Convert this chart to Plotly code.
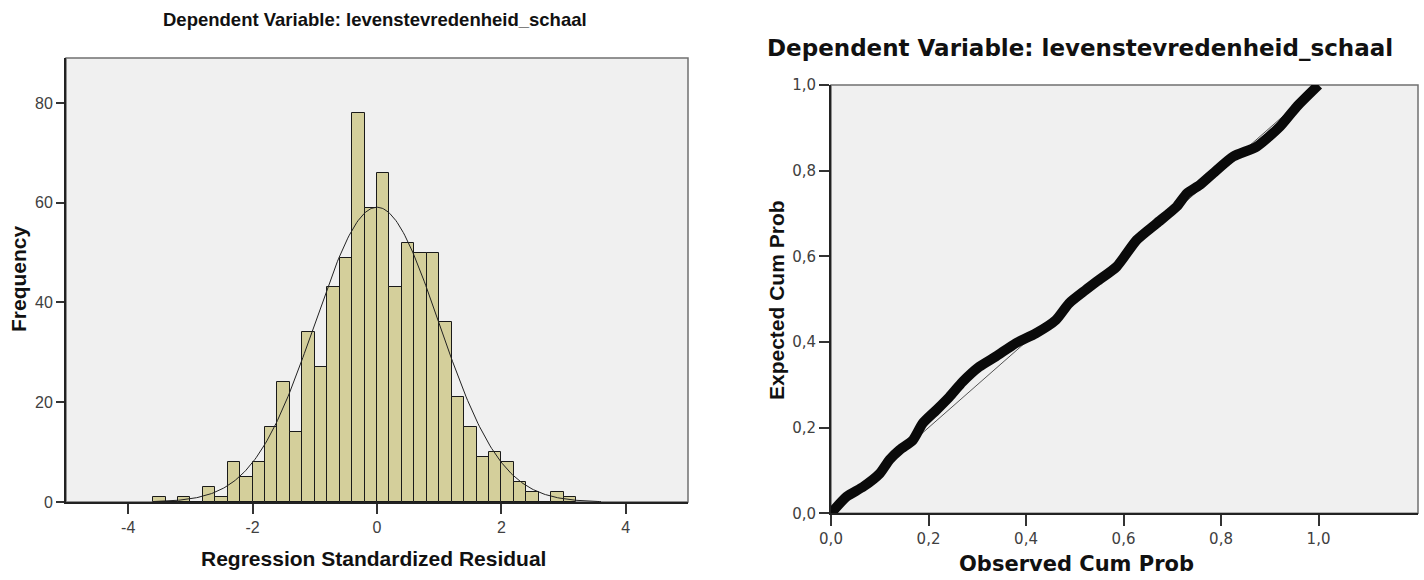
import numpy as np
import plotly.graph_objects as go

# ---------------- Data ----------------
title_text = "Dependent Variable: levenstevredenheid_schaal"

# Histogram of regression standardized residuals (bin width 0.2)
bin_left_edges = [-3.6, -3.4, -3.2, -3.0, -2.8, -2.6, -2.4, -2.2, -2.0, -1.8,
                  -1.6, -1.4, -1.2, -1.0, -0.8, -0.6, -0.4, -0.2, 0.0, 0.2,
                  0.4, 0.6, 0.8, 1.0, 1.2, 1.4, 1.6, 1.8, 2.0, 2.2,
                  2.4, 2.6, 2.8, 3.0]
bin_counts = [1, 0, 1, 0, 3, 1, 8, 5, 8, 15,
              24, 14, 34, 27, 43, 49, 78, 59, 66, 43,
              52, 50, 50, 36, 21, 15, 9, 10, 8, 4,
              2, 0, 2, 1]
bin_width = 0.2

# Fitted normal curve parameters
resid_mean = 0.0
resid_std = 0.998
resid_n = 739
curve_range = [-3.6, 3.6]

hist_xticks = [-4, -2, 0, 2, 4]
hist_xticklabels = ["-4", "-2", "0", "2", "4"]
hist_yticks = [0, 20, 40, 60, 80]

# Normal P-P plot (observed vs expected cumulative probability)
pp_observed = [0.0, 0.032, 0.066, 0.10, 0.12, 0.141, 0.168, 0.188, 0.216, 0.243,
               0.27, 0.304, 0.338, 0.379, 0.42, 0.461, 0.488, 0.522, 0.545, 0.586,
               0.627, 0.668, 0.709, 0.73, 0.757, 0.784, 0.825, 0.873, 0.921, 0.955, 1.0]
pp_expected = [0.0, 0.039, 0.062, 0.093, 0.125, 0.148, 0.171, 0.21, 0.241, 0.272,
               0.307, 0.342, 0.366, 0.397, 0.42, 0.451, 0.49, 0.521, 0.541, 0.576,
               0.638, 0.677, 0.716, 0.747, 0.767, 0.794, 0.833, 0.856, 0.903, 0.949, 1.0]
pp_ticks = [0.0, 0.2, 0.4, 0.6, 0.8, 1.0]

# ---------------- Figure ----------------
W, H = 1424, 580
fig = go.Figure()

bin_centers = [e + bin_width / 2 for e in bin_left_edges]
fig.add_trace(go.Bar(
    x=bin_centers, y=bin_counts, width=bin_width,
    marker=dict(color="#D4CF9B", line=dict(color="#1a1a1a", width=1)),
    xaxis="x", yaxis="y", showlegend=False, hoverinfo="x+y"))

cx = np.linspace(curve_range[0], curve_range[1], 300)
cy = resid_n * bin_width / (resid_std * np.sqrt(2 * np.pi)) * np.exp(-0.5 * ((cx - resid_mean) / resid_std) ** 2)
fig.add_trace(go.Scatter(x=cx, y=cy, mode="lines", line=dict(color="#222222", width=1),
                         xaxis="x", yaxis="y", showlegend=False, hoverinfo="skip"))

fig.add_trace(go.Scatter(x=[0, 1], y=[0, 1], mode="lines", line=dict(color="#555555", width=1),
                         xaxis="x2", yaxis="y2", showlegend=False, hoverinfo="skip"))
fig.add_trace(go.Scatter(x=pp_observed, y=pp_expected, mode="lines",
                         line=dict(color="#0a0a0a", width=10, shape="spline", smoothing=0.6),
                         xaxis="x2", yaxis="y2", showlegend=False))

def px_x(p):
    return min(1.0, max(0.0, p / W))

def px_y(p):
    return min(1.0, max(0.0, 1 - p / H))

left_dom_x = [px_x(66), px_x(688)]
left_dom_y = [px_y(502), px_y(58)]
right_dom_x = [px_x(831), px_x(1418)]
right_dom_y = [px_y(513.3), px_y(85)]

tick_font_l = dict(family="Liberation Sans, Arial, sans-serif", size=16, color="#404040")
tick_font_r = dict(family="DejaVu Sans, sans-serif", size=15, color="#404040")

common = dict(ticks="outside", tickwidth=1.5, tickcolor="#333333",
              showline=True, linecolor="#222222", linewidth=2,
              showgrid=False, zeroline=False, automargin=False)

fig.update_layout(
    width=W, height=H,
    autosize=False,
    margin=dict(l=0, r=0, t=0, b=0, pad=0, autoexpand=False),
    paper_bgcolor="white",
    plot_bgcolor="#F0F0F0",
    separators=",.",
    bargap=0,
    showlegend=False,
    xaxis=dict(domain=left_dom_x, range=[-5, 5], tickvals=hist_xticks, ticktext=hist_xticklabels,
               ticklen=10, tickfont=tick_font_l, anchor="y", **common),
    yaxis=dict(domain=left_dom_y, range=[0, 89], tickvals=hist_yticks, ticklen=8,
               tickfont=tick_font_l, anchor="x", **common),
    xaxis2=dict(domain=right_dom_x, range=[0, 1.204], tickvals=pp_ticks, tickformat=".1f",
                ticklen=11, tickfont=tick_font_r, anchor="y2", **common),
    yaxis2=dict(domain=right_dom_y, range=[0, 1], tickvals=pp_ticks, tickformat=".1f",
                ticklen=10, tickfont=tick_font_r, anchor="x2", **common),
)

# Gray plot frames
for xr, yr in (("x domain", "y domain"), ("x2 domain", "y2 domain")):
    fig.add_shape(type="rect", xref=xr, yref=yr, x0=0, x1=1, y0=0, y1=1,
                  line=dict(color="#707070", width=1.5), layer="below")

bold_l = "Liberation Sans, Arial, sans-serif"
bold_r = "DejaVu Sans, sans-serif"
anns = [
    dict(text=title_text, x=375 / W, y=1 - 20 / H, font=dict(family=bold_l, size=18.5, color="#111111", weight="bold")),
    dict(text=title_text, x=1080 / W, y=1 - 48 / H, font=dict(family=bold_r, size=23, color="#111111", weight="bold")),
    dict(text="Regression Standardized Residual", x=373 / W, y=1 - 558 / H,
         font=dict(family=bold_l, size=21, color="#111111", weight="bold")),
    dict(text="Frequency", x=18 / W, y=1 - 279 / H, textangle=-90,
         font=dict(family=bold_l, size=21, color="#111111", weight="bold")),
    dict(text="Observed Cum Prob", x=1076 / W, y=1 - 564 / H,
         font=dict(family=bold_r, size=21, color="#111111", weight="bold")),
    dict(text="Expected Cum Prob", x=776 / W, y=1 - 300 / H, textangle=-90,
         font=dict(family=bold_l, size=21, color="#111111", weight="bold")),
]
for a in anns:
    fig.add_annotation(xref="paper", yref="paper", showarrow=False,
                       xanchor="center", yanchor="middle", **a)

fig.write_html("out.html")
